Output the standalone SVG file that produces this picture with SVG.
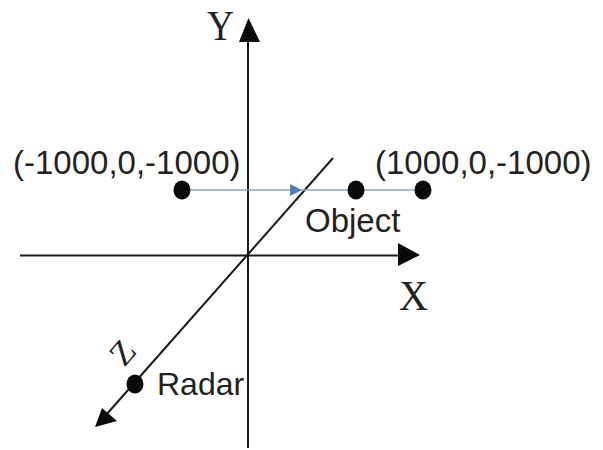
<svg xmlns="http://www.w3.org/2000/svg" width="603" height="450" viewBox="0 0 603 450">
<style>
.ax{stroke:#1a1a1a;stroke-width:2;fill:none}
.ah{fill:#0a0a0a}
.dot{fill:#0a0a0a}
.sans{font-family:"Liberation Sans",Arial,sans-serif;fill:#222}
.serif{font-family:"Liberation Serif","Times New Roman",serif;fill:#222}
</style>
<rect width="603" height="450" fill="#fff"/>
<g id="connectors">
<line class="ax" x1="248" y1="38" x2="248" y2="448"/>
<polygon class="ah" points="248.5,18 239,42 260,42"/>
<line class="ax" x1="20" y1="255.5" x2="402" y2="255.5"/>
<polygon class="ah" points="420,255 398,243 398,266"/>
<line class="ax" x1="333" y1="158" x2="106" y2="415"/>
<polygon class="ah" points="95,427 102,408 117,421"/>
<line x1="182" y1="190" x2="423" y2="190" stroke="#8fa9bd" stroke-width="1.5"/>
<polygon points="302,190 290,184 290,196" fill="#4f7fbf"/>
</g>
<g id="axis-y"><text class="serif" x="207" y="40" font-size="42" textLength="27" lengthAdjust="spacingAndGlyphs">Y</text></g>
<g id="axis-x"><text class="serif" x="399" y="310" font-size="42" textLength="29" lengthAdjust="spacingAndGlyphs">X</text></g>
<g id="axis-z"><text class="serif" x="0" y="0" font-size="34" text-anchor="middle" transform="translate(131,360) rotate(-49)">Z</text></g>
<g id="start"><ellipse class="dot" cx="182" cy="190" rx="8.5" ry="9.5"/><text class="sans" x="13" y="174" font-size="33">(-1000,0,-1000)</text></g>
<g id="object"><ellipse class="dot" cx="356" cy="190" rx="8.5" ry="9.5"/><text class="sans" x="305" y="232" font-size="33">Object</text></g>
<g id="end"><ellipse class="dot" cx="423" cy="190" rx="8.5" ry="9.5"/><text class="sans" x="375" y="174" font-size="33">(1000,0,-1000)</text></g>
<g id="radar"><ellipse class="dot" cx="135" cy="384" rx="8.5" ry="9.5"/><text class="sans" x="157" y="395" font-size="32">Radar</text></g>
</svg>
